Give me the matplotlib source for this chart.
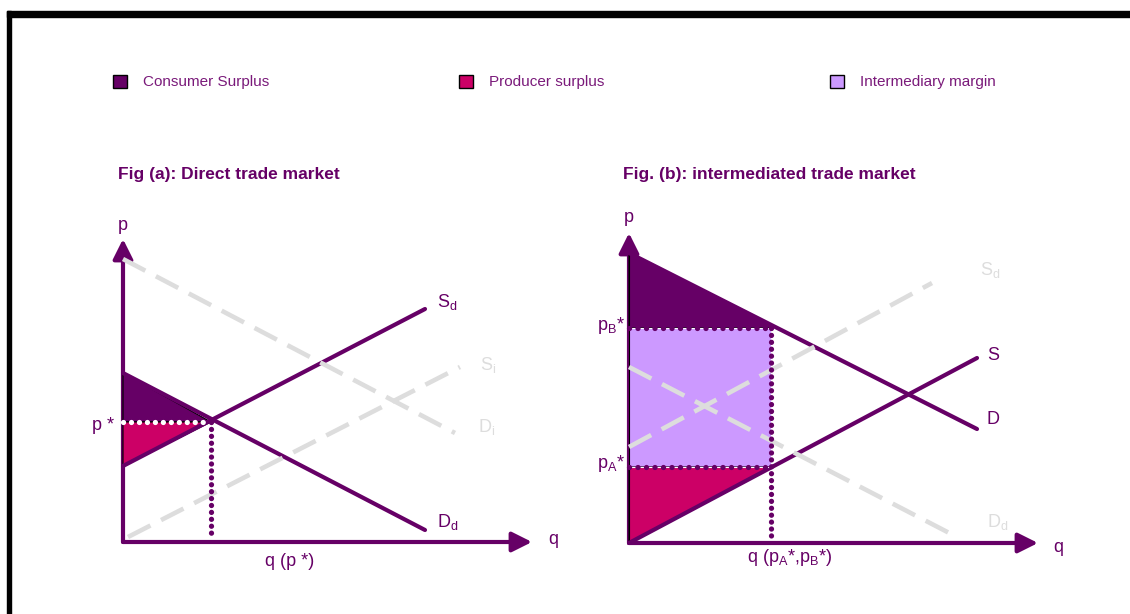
import numpy as np
import matplotlib
matplotlib.use("Agg")
import matplotlib.pyplot as plt
from matplotlib.patches import Rectangle

plt.rcParams["font.family"] = ["Liberation Sans", "DejaVu Sans"]
plt.rcParams["mathtext.fontset"] = "custom"
plt.rcParams["mathtext.rm"] = "Liberation Sans"
plt.rcParams["mathtext.it"] = "Liberation Sans:italic"
plt.rcParams["mathtext.default"] = "regular"

PURPLE = "#660066"
MAGENTA = "#CC0066"
LAVENDER = "#CC99FF"
GREY = "#DDDDDD"
TEXT = "#7A1A7A"

W, H = 1130, 614

legend_labels = ["Consumer Surplus", "Producer surplus", "Intermediary margin"]
legend_colors = [PURPLE, MAGENTA, LAVENDER]
legend_x = [113, 459, 830]

titles = ["Fig (a): Direct trade market", "Fig. (b): intermediated trade market"]
title_x = [118, 623]

# panel (a): direct trade market, curve end points in (q, p)
a_supply_q, a_supply_p = [0.0, 30.2], [7.6, 23.3]
a_demand_q, a_demand_p = [0.0, 30.2], [16.9, 1.2]
a_demand_i_q, a_demand_i_p = [0.0, 33.2], [28.3, 10.9]
a_supply_i_q, a_supply_i_p = [0.5, 33.7], [0.5, 17.5]
a_q_star, a_p_star = 8.8, 12.0
a_q_max, a_p_max = 40.9, 30.3

# panel (b): intermediated trade market
b_demand_q, b_demand_p = [0.0, 34.8], [29.0, 11.4]
b_supply_q, b_supply_p = [0.0, 34.8], [0.0, 18.5]
b_supply_d_q, b_supply_d_p = [0.0, 30.3], [9.6, 26.0]
b_demand_d_q, b_demand_d_p = [0.0, 32.8], [17.6, 0.6]
b_q_star, b_p_b, b_p_a = 14.2, 21.5, 7.6
b_q_max, b_p_max = 40.9, 31.0


def panel_axes(fig, ox, oy):
    # 10 px per unit, origin at pixel (ox, oy) measured from the top left
    x0, x1, y0, y1 = -7, 46, -7, 35
    left = (ox + x0 * 10) / W
    bottom = (H - oy + y0 * 10) / H
    ax = fig.add_axes([left, bottom, (x1 - x0) * 10 / W, (y1 - y0) * 10 / H])
    ax.set_xlim(x0, x1)
    ax.set_ylim(y0, y1)
    ax.axis("off")
    return ax


def draw_axes_arrows(ax, q_max, p_max):
    style = "-|>,head_length=0.6,head_width=0.3"
    for tip in [(0, p_max), (q_max, 0)]:
        ax.annotate("", xy=tip, xytext=(0, 0),
                    arrowprops=dict(arrowstyle=style, lw=3, color=PURPLE,
                                    mutation_scale=20, shrinkA=0, shrinkB=0),
                    zorder=2)


def solid(ax, q, p):
    ax.plot(q, p, color=PURPLE, lw=3, solid_capstyle="round", zorder=3)


def dashed(ax, q, p):
    ax.plot(q, p, color=GREY, lw=3.3, dashes=(5.5, 2.6), dash_capstyle="butt", zorder=4)


def dotted(ax, q, p, color=PURPLE, gap=1.3):
    ax.plot(q, p, color=color, lw=3.8, linestyle=(0, (0.01, gap)),
            dash_capstyle="round", zorder=6)


def label(ax, x, y, s, color=PURPLE, ha="left", size=13):
    ax.text(x, y, s, color=color, fontsize=size, ha=ha, va="center", zorder=7)


fig = plt.figure(figsize=(W / 100, H / 100), dpi=100)

# frame bars on top and left
fig.add_artist(Rectangle((7 / W, (H - 17) / H), (W - 7) / W, 6 / H,
                         transform=fig.transFigure, color="black"))
fig.add_artist(Rectangle((7 / W, 0), 4 / W, (H - 11) / H,
                         transform=fig.transFigure, color="black"))

# legend
for x, lab, col in zip(legend_x, legend_labels, legend_colors):
    fig.add_artist(Rectangle((x / W, (H - 88) / H), 14 / W, 13 / H,
                             transform=fig.transFigure, facecolor=col,
                             edgecolor="black", lw=1))
    fig.text((x + 30) / W, (H - 82) / H, lab, color=TEXT, fontsize=11, va="center")

for x, t in zip(title_x, titles):
    fig.text(x / W, (H - 175) / H, t, color=PURPLE, fontsize=12.5,
             fontweight="bold", va="center")

# ---- panel (a)
ax = panel_axes(fig, 123, 542)
draw_axes_arrows(ax, a_q_max, a_p_max)
ax.fill([0, a_q_star, 0], [a_demand_p[0], a_p_star, a_p_star],
        facecolor=PURPLE, edgecolor="black", lw=0.8, zorder=2.5)
ax.fill([0, a_q_star, 0], [a_p_star, a_p_star, a_supply_p[0]],
        facecolor=MAGENTA, edgecolor="black", lw=0.8, zorder=2.5)
solid(ax, a_supply_q, a_supply_p)
solid(ax, a_demand_q, a_demand_p)
dashed(ax, a_demand_i_q, a_demand_i_p)
dashed(ax, a_supply_i_q, a_supply_i_p)
dotted(ax, [a_q_star, a_q_star], [a_p_star, 0.3])
dotted(ax, [0, a_q_star - 0.4], [a_p_star, a_p_star], color="white", gap=1.5)

label(ax, 0, 31.6, "p", ha="center")
label(ax, 42.5, 0.2, "q")
label(ax, 31.4, 24.0, "S$_{d}$")
label(ax, 31.4, 2.0, "D$_{d}$")
label(ax, 35.7, 17.7, "S$_{i}$", color=GREY)
label(ax, 35.5, 11.5, "D$_{i}$", color=GREY)
label(ax, -0.9, 11.6, "p *", ha="right")
label(ax, 16.7, -1.9, "q (p *)", ha="center")

# ---- panel (b)
ax = panel_axes(fig, 629, 543)
draw_axes_arrows(ax, b_q_max, b_p_max)
d_at_q = np.interp(b_q_star, b_demand_q, b_demand_p)
ax.fill([0, b_q_star, b_q_star, 0], [b_demand_p[0], d_at_q, b_p_b, b_p_b],
        facecolor=PURPLE, edgecolor="black", lw=0.8, zorder=2.5)
ax.fill([0, b_q_star, b_q_star, 0], [b_p_a, b_p_a, b_p_b, b_p_b],
        facecolor=LAVENDER, edgecolor="none", zorder=2.5)
ax.fill([0, b_q_star, 0], [b_p_a, b_p_a, 0],
        facecolor=MAGENTA, edgecolor="black", lw=0.8, zorder=2.5)
ax.plot([0, 0], [0, b_demand_p[0]], color="black", lw=0.8, zorder=2.6)
solid(ax, b_demand_q, b_demand_p)
solid(ax, b_supply_q, b_supply_p)
dashed(ax, b_supply_d_q, b_supply_d_p)
dashed(ax, b_demand_d_q, b_demand_d_p)
for pv in [b_p_b, b_p_a]:
    ax.plot([0, b_q_star], [pv, pv], color="white", lw=0.8, zorder=5.5)
    dotted(ax, [0, b_q_star], [pv, pv], gap=1.6)
dotted(ax, [b_q_star, b_q_star], [b_p_b, 0.3])

label(ax, 0, 32.5, "p", ha="center")
label(ax, 42.4, -0.4, "q")
label(ax, 35.8, 18.7, "S")
label(ax, 35.8, 12.3, "D")
label(ax, 35.1, 27.3, "S$_{d}$", color=GREY)
label(ax, 35.8, 2.1, "D$_{d}$", color=GREY)
label(ax, -0.4, 21.7, "p$_{B}$*", ha="right")
label(ax, -0.4, 7.9, "p$_{A}$*", ha="right")
label(ax, 16.1, -1.5, "q (p$_{A}$*,p$_{B}$*)", ha="center")

fig.savefig("out.png", dpi=100)
